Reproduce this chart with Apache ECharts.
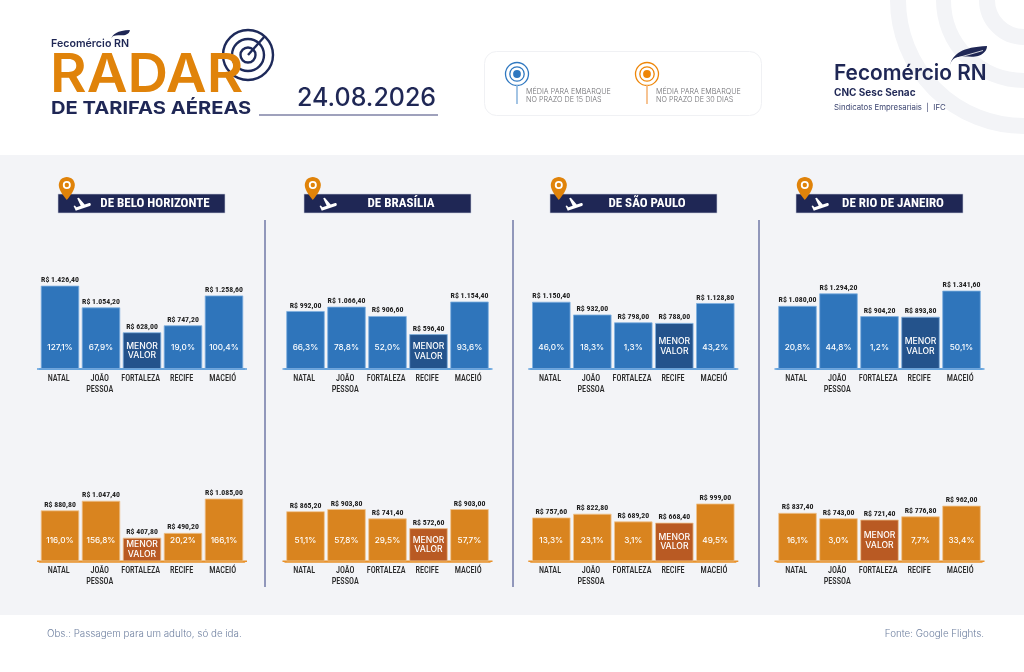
<!DOCTYPE html>
<html><head><meta charset="utf-8">
<style>html,body{margin:0;padding:0;background:#fff}#c{width:1024px;height:672px}</style>
<script src="https://cdn.jsdelivr.net/npm/echarts@6/dist/echarts.min.js"></script>
</head><body><div id="c"></div>
<script>
// ---------- data ----------
const cities = ['NATAL', 'JOÃO\nPESSOA', 'FORTALEZA', 'RECIFE', 'MACEIÓ'];
const origins = ['DE BELO HORIZONTE', 'DE BRASÍLIA', 'DE SÃO PAULO', 'DE RIO DE JANEIRO'];

const bh15 = [1426.40, 1054.20, 628.00, 747.20, 1258.60];
const bh15Pct = ['127,1%', '67,9%', '', '19,0%', '100,4%'];
const bh30 = [880.80, 1047.40, 407.80, 490.20, 1085.00];
const bh30Pct = ['116,0%', '156,8%', '', '20,2%', '166,1%'];

const bsb15 = [992.00, 1066.40, 906.60, 596.40, 1154.40];
const bsb15Pct = ['66,3%', '78,8%', '52,0%', '', '93,6%'];
const bsb30 = [865.20, 903.80, 741.40, 572.60, 903.00];
const bsb30Pct = ['51,1%', '57,8%', '29,5%', '', '57,7%'];

const sp15 = [1150.40, 932.00, 798.00, 788.00, 1128.80];
const sp15Pct = ['46,0%', '18,3%', '1,3%', '', '43,2%'];
const sp30 = [757.60, 822.80, 689.20, 668.40, 999.00];
const sp30Pct = ['13,3%', '23,1%', '3,1%', '', '49,5%'];

const rio15 = [1080.00, 1294.20, 904.20, 893.80, 1341.60];
const rio15Pct = ['20,8%', '44,8%', '1,2%', '', '50,1%'];
const rio30 = [837.40, 743.00, 721.40, 776.80, 962.00];
const rio30Pct = ['16,1%', '3,0%', '', '7,7%', '33,4%'];

const panels = [
  [bh15, bh15Pct, bh30, bh30Pct],
  [bsb15, bsb15Pct, bsb30, bsb30Pct],
  [sp15, sp15Pct, sp30, sp30Pct],
  [rio15, rio15Pct, rio30, rio30Pct]
];

// ---------- style / layout ----------
const NAVY = '#1F2755', ORANGE = '#E0830A', BG = '#F3F4F7';
const NARROW = '"Roboto Condensed",Roboto,sans-serif';
const SANS = 'Inter,"Open Sans",sans-serif';
const gridLeft = [39.5, 285, 530.8, 777];
const pillLeft = [58, 304, 550, 796];
const axisMax = 1500;
const rows = [
  {base: 369, h: 87.6, color: '#2F75BB', low: '#24538C', edge: '#7FB0E0', axis: '#5E9FDC'},
  {base: 561.3, h: 86.7, color: '#D9841F', low: '#B95A23', edge: '#F0C48E', axis: '#E8912B'}
];
const brl = v => 'R$ ' + v.toFixed(2).replace('.', ',').replace(/\B(?=(\d{3})+,)/g, '.');

// icon shapes
const reg = (name, d) => echarts.graphic.registerShape(name, echarts.graphic.extendPath(d, {}));
reg('planeIcon', 'M22.07 9.64c-.21-.8-1.04-1.28-1.84-1.06L14.92 10l-6.9-6.43-1.93.51 4.14 7.17-4.97 1.33-1.97-1.54-1.45.39 1.82 3.16.77 1.33 1.6-.43 5.31-1.42 4.35-1.16L21 11.49c.81-.23 1.28-1.05 1.07-1.85z');
reg('pinIcon', 'M12 2C8.13 2 5 5.13 5 9c0 5.25 7 13 7 13s7-7.75 7-13c0-3.87-3.13-7-7-7z');
reg('featherIcon', 'M0 19 C3 8 12 1 37 0 C37 4 34 8 28 10 C22 12 12 9 5 12 C3 13 1 15 0 19Z');

const grids = [], xAxes = [], yAxes = [], series = [], g = [];
const txt = (text, x, y, font, fill, extra) => Object.assign({type: 'text', x, y,
  style: {text, font, fill, textAlign: 'left', textVerticalAlign: 'middle'}}, extra || {});
const mid = (text, x, y, font, fill, extra) => { const t = txt(text, x, y, font, fill, extra); t.style.textAlign = 'center'; return t; };
const ring = (cx, cy, r, stroke, lw) => ({type: 'circle', shape: {cx, cy, r}, style: {fill: 'none', stroke, lineWidth: lw}});
const line = (x1, y1, x2, y2, stroke, lw) => ({type: 'line', shape: {x1, y1, x2, y2}, style: {stroke, lineWidth: lw}});
const icon = (type, x, y, sx, sy, fill, extra) => Object.assign({type, x, y, scaleX: sx, scaleY: sy, style: {fill}}, extra || {});

// page furniture
g.push({type: 'rect', shape: {x: 0, y: 155, width: 1024, height: 460}, style: {fill: BG}, z: -5});
[[134, 118], [88, 73], [45, 29]].forEach(([o, i]) => g.push(ring(1024, 0, (o + i) / 2, BG, o - i)));

// brand block
[[25], [16], [7.5]].forEach(([r]) => g.push(ring(248, 55, r, '#1E2A5A', 2.4)));
g.push(line(248, 55, 265, 36, '#1E2A5A', 2.4));
g.push(txt('RADAR', 50, 75.5, '600 54px ' + SANS, ORANGE, {scaleX: 1.04}));
g.push(txt('Fecomércio RN', 51, 44, '600 11px ' + SANS, NAVY, {scaleX: 0.97}));
g.push(icon('featherIcon', 111, 30, 0.51, 0.5, NAVY));
g.push(txt('DE TARIFAS AÉREAS', 51, 108.5, '700 17.5px ' + SANS, NAVY, {scaleX: 1.15}));
g.push(txt('24.08.2026', 297, 98.5, '500 25px ' + SANS, NAVY));
g.push(line(259, 115, 438, 115, '#7F82A6', 1.4));

// legend box
g.push({type: 'rect', shape: {x: 484.5, y: 51.5, width: 277, height: 64, r: 12}, style: {fill: '#fff', stroke: '#F0F1F4', lineWidth: 1}});
[[517, '#2F78C0', '#8DB6DE', '15'], [647, '#EE8608', '#F4B578', '30']].forEach(([cx, col, stem, d]) => {
  g.push(ring(cx, 74, 11.5, col, 1.3), ring(cx, 74, 7.2, col, 1.3));
  g.push({type: 'circle', shape: {cx, cy: 74, r: 3.9}, style: {fill: col}});
  g.push(line(cx, 85, cx, 104, stem, 1.6));
  g.push(txt('MÉDIA PARA EMBARQUE', cx + 9, 92, '300 7.2px ' + SANS, '#6E6E72'));
  g.push(txt('NO PRAZO DE ' + d + ' DIAS', cx + 9, 100, '300 7.2px ' + SANS, '#6E6E72'));
});

// right logo
g.push(txt('Fecomércio RN', 834, 73.5, '600 21.5px ' + SANS, NAVY, {scaleX: 0.97}));
g.push(icon('featherIcon', 950, 46, 1, 1, NAVY));
g.push(line(957, 58, 983, 50.5, '#fff', 0.8));
g.push(txt('CNC Sesc Senac', 834, 93, '700 10px ' + SANS, NAVY));
g.push(txt('Sindicatos Empresariais  |  IFC', 834, 108, '400 7.8px ' + SANS, '#3C4570'));

// footer
g.push(txt('Obs.: Passagem para um adulto, só de ida.', 47, 634, '300 9.8px ' + SANS, '#6F80A0'));
const foot = txt('Fonte: Google Flights.', 984, 634, '300 9.8px ' + SANS, '#6F80A0');
foot.style.textAlign = 'right';
g.push(foot);

// separators
[265, 513, 759].forEach(x => g.push(line(x, 220, x, 587, '#2F3B7E', 1)));

panels.forEach((panel, p) => {
  const px = pillLeft[p];
  g.push({type: 'rect', shape: {x: px, y: 194, width: 167, height: 19}, style: {fill: NAVY, stroke: '#C9CCDD', lineWidth: 0.6}});
  g.push(mid(origins[p], px + 97, 203.5, '700 13px ' + NARROW, '#fff'));
  g.push(icon('planeIcon', px + 14, 194, 0.85, 1.05, '#fff'));
  g.push(icon('pinIcon', px - 5, 174.6, 1.15, 1.15, ORANGE));
  g.push({type: 'circle', shape: {cx: px + 8.8, cy: 185, r: 4}, style: {fill: '#fff'}});
  g.push({type: 'circle', shape: {cx: px + 8.8, cy: 185, r: 2.2}, style: {fill: ORANGE}});

  rows.forEach((row, r) => {
    const idx = grids.length;
    const values = panel[r * 2], pct = panel[r * 2 + 1];
    const minV = Math.min(...values);
    grids.push({left: gridLeft[p], width: 205, top: row.base - row.h, height: row.h});
    xAxes.push({type: 'category', gridIndex: idx, data: cities,
      axisLine: {show: true, lineStyle: {color: row.axis, width: 1.5}},
      axisTick: {show: false}, splitLine: {show: false},
      axisLabel: {interval: 0, margin: 4, color: '#2B2B2B', lineHeight: 11,
        fontFamily: NARROW, fontSize: 8.2, fontWeight: 500, verticalAlign: 'top', padding: [0, 2.6, 0, 0]}});
    yAxes.push({type: 'value', gridIndex: idx, min: 0, max: axisMax, show: false});
    g.push(line(gridLeft[p] - 2.5, row.base, gridLeft[p] + 207.5, row.base, row.axis, 1.5));

    series.push({type: 'bar', xAxisIndex: idx, yAxisIndex: idx, barWidth: 38.4, barGap: '-100%', silent: true,
      data: values.map((v, i) => {
        const isLow = v === minV;
        const item = {value: v, itemStyle: {color: isLow ? row.low : row.color},
          label: {formatter: isLow ? 'MENOR\nVALOR' : pct[i]}};
        if (isLow) {
          item.label.fontWeight = 500; item.label.fontSize = 8.6; item.label.lineHeight = 9.5;
          item.label.position = 'inside';
          const barPx = v / axisMax * row.h;
          if (barPx >= 44) { item.label.position = 'insideBottom'; item.label.distance = 13; }
        }
        return item;
      }),
      itemStyle: {borderColor: row.edge, borderWidth: 0.8},
      label: {show: true, position: 'insideBottom', distance: 17, color: '#fff', fontFamily: SANS,
        fontSize: 8.2, fontWeight: 500, align: 'center'}});
    series.push({type: 'bar', xAxisIndex: idx, yAxisIndex: idx, barWidth: 38.4, barGap: '-100%', silent: true,
      data: values, itemStyle: {color: 'transparent'},
      label: {show: true, position: 'top', distance: 1.5, color: '#222', fontFamily: NARROW, fontSize: 7.8, fontWeight: 700,
        formatter: o => brl(o.value)}});
  });
});

const chart = echarts.init(document.getElementById('c'), null, {renderer: 'canvas'});
chart.setOption({animation: false, backgroundColor: '#fff', grid: grids, xAxis: xAxes, yAxis: yAxes, series, graphic: {elements: g}});
</script></body></html>
